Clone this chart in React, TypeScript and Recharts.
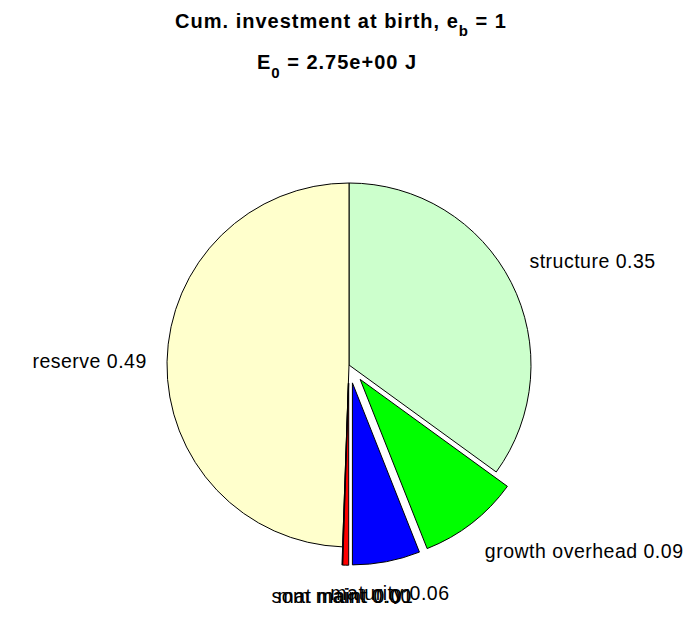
import React from 'react';
import { PieChart, Pie, Cell } from 'recharts';

// ---- data ----
const categories = ['structure', 'growth overhead', 'maturity', 'mat maint', 'som maint', 'reserve'];
const fractions = [0.35, 0.09, 0.06, 0.0052, 0.0004, 0.4944];
const exploded = [false, true, true, true, true, false];
const sliceColors = ['#CCFFCC', '#00FF00', '#0000FF', '#FF0000', '#FF00FF', '#FFFFCC'];
const titleMain = 'Cum. investment at birth, e';
const titleSub = 'b';
const titleTail = ' = 1';
const energyMain = 'E';
const energySub = '0';
const energyTail = ' = 2.75e+00 J';

// ---- layout ----
const W = 696;
const H = 618;
const CX = 349;
const CY = 365;
const R = 182;
const FONT = '"Liberation Sans", Arial, Helvetica, sans-serif';
const RAD = Math.PI / 180;

const data = categories.map((name, i) => ({ name, value: fractions[i] }));
const total = fractions.reduce((a, b) => a + b, 0);
const midAngles = fractions.map((f, i) => {
  const before = fractions.slice(0, i).reduce((a, b) => a + b, 0);
  return 90 - (360 * (before + f / 2)) / total;
});

const renderLabel = (props: any) => {
  const { cx, cy, midAngle, outerRadius, index, name, value } = props;
  const c = Math.cos(midAngle * RAD);
  const s = Math.sin(midAngle * RAD);
  const ex = exploded[index] ? 0.1 * outerRadius : 0;
  const ax = cx + (ex + 1.1 * outerRadius) * c;
  const ay = cy - (ex + 1.1 * outerRadius) * s;
  const anchor = c > 0.3 ? 'start' : c < -0.3 ? 'end' : 'middle';
  const by = s > 0.3 ? ay - 6 : s < -0.3 ? ay + 20 : ay + 7;
  return (
    <text
      key={`lbl-${index}`}
      x={c > 0.3 ? ax + 2 : c < -0.3 ? ax - 2 : ax}
      y={by}
      textAnchor={anchor}
      fontFamily={FONT}
      fontSize={19.5}
      letterSpacing={0.5}
      fill="#000"
    >
      {`${name} ${Number(value).toFixed(2)}`}
    </text>
  );
};

export default function App() {
  return (
    <div style={{ position: 'absolute', left: 0, top: 0, width: W, height: H, background: '#fff' }}>
      <PieChart width={W} height={H} margin={{ top: 0, right: 0, bottom: 0, left: 0 }}>
        <Pie
          data={data}
          dataKey="value"
          nameKey="name"
          cx={CX}
          cy={CY}
          outerRadius={R}
          startAngle={90}
          endAngle={-270}
          isAnimationActive={false}
          label={renderLabel}
          labelLine={false}
        >
          {data.map((d, i) => (
            <Cell
              key={`base-${i}`}
              fill={exploded[i] ? 'none' : sliceColors[i]}
              stroke={exploded[i] ? 'none' : '#000'}
              strokeWidth={1}
            />
          ))}
        </Pie>
        {data.map((d, k) =>
          exploded[k] ? (
            <Pie
              key={`exp-${k}`}
              data={data}
              dataKey="value"
              nameKey="name"
              cx={CX + 0.1 * R * Math.cos(midAngles[k] * RAD)}
              cy={CY - 0.1 * R * Math.sin(midAngles[k] * RAD)}
              outerRadius={R}
              startAngle={90}
              endAngle={-270}
              isAnimationActive={false}
              label={false}
              labelLine={false}
            >
              {data.map((e, i) => (
                <Cell
                  key={`c-${k}-${i}`}
                  fill={i === k ? sliceColors[i] : 'none'}
                  stroke={i === k ? '#000' : 'none'}
                  strokeWidth={1}
                />
              ))}
            </Pie>
          ) : null
        )}
      </PieChart>
      <svg
        width={W}
        height={90}
        style={{ position: 'absolute', left: 0, top: 0, pointerEvents: 'none' }}
      >
        <text x={341} y={28} textAnchor="middle" fontFamily={FONT} fontWeight="bold" fontSize={20} letterSpacing={1}>
          {titleMain}
          <tspan fontSize={15} dy={8}>{titleSub}</tspan>
          <tspan dy={-8}>{titleTail}</tspan>
        </text>
        <text x={337} y={69} textAnchor="middle" fontFamily={FONT} fontWeight="bold" fontSize={20} letterSpacing={1}>
          {energyMain}
          <tspan fontSize={15} dy={9}>{energySub}</tspan>
          <tspan dy={-9}>{energyTail}</tspan>
        </text>
      </svg>
    </div>
  );
}
